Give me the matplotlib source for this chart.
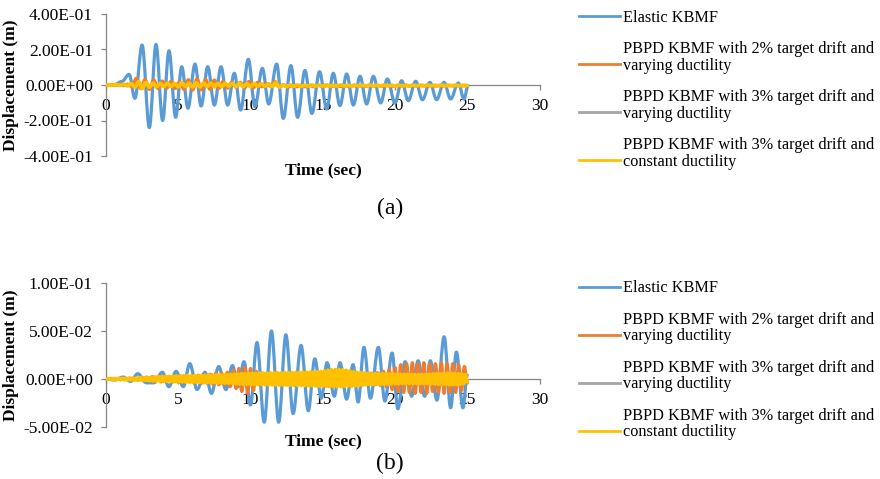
import matplotlib
matplotlib.use("Agg")
import matplotlib.pyplot as plt
import numpy as np
from matplotlib.path import Path
from matplotlib.patches import PathPatch
from matplotlib.lines import Line2D

plt.rcParams['font.family'] = ['Liberation Serif', 'DejaVu Serif']

# ---------------- data ----------------
# (a) elastic response: times and values of the peaks / troughs
t_el_a = [0, 0.6, 1.1, 1.6, 2.0, 2.5, 3.0, 3.46, 3.92, 4.36, 4.82, 5.24, 5.67, 6.16,
          6.58, 7.04, 7.5, 7.96, 8.42, 8.88, 9.32, 9.85, 10.31, 10.82, 11.26, 11.81,
          12.27, 12.8, 13.26, 13.77, 14.25, 14.78, 15.27, 15.73, 16.19, 16.66, 17.12,
          17.58, 18.04, 18.5, 19.01, 19.47, 20.0, 20.46, 20.92, 21.43, 21.9, 22.42,
          22.88, 23.39, 23.85, 24.38, 24.78, 25.05]
d_el_a = [0, 0.003, 0.02, 0.06, -0.075, 0.225, -0.24, 0.229, -0.2, 0.193, -0.182, 0.103,
          -0.131, 0.118, -0.118, 0.103, -0.113, 0.103, -0.113, 0.066, -0.141, 0.145,
          -0.122, 0.094, -0.107, 0.118, -0.188, 0.109, -0.182, 0.082, -0.16, 0.075,
          -0.135, 0.066, -0.116, 0.062, -0.113, 0.049, -0.107, 0.049, -0.101, 0.034,
          -0.101, 0.024, -0.088, 0.021, -0.083, 0.015, -0.083, 0.015, -0.079, 0.011,
          -0.079, -0.004]

# (a) PBPD 2% drift, varying ductility (one value every 0.3 s)
d_p2_a = [0, 0.002, -0.002, 0.003, -0.003, 0.005, -0.01, 0.038, -0.02, 0.03,
          -0.025, 0.028, -0.02, 0.022, -0.018, 0.02, -0.02, 0.018, -0.025, 0.03,
          -0.028, 0.035, -0.028, 0.03, -0.025, 0.028, -0.02, 0.02, -0.018, 0.015,
          -0.012, 0.015, -0.015, 0.02, -0.015, 0.015, -0.01, 0.008, -0.008, 0.02,
          -0.012, 0.0, -0.012, -0.002, -0.01, -0.002, -0.01, -0.003, -0.01, -0.002,
          -0.009, -0.003, -0.009, -0.002, -0.008, -0.003, -0.008, -0.002, -0.008, -0.003,
          -0.007, -0.002, -0.007, -0.003, -0.007, -0.002, -0.007, -0.003, -0.006, -0.002,
          -0.006, -0.003, -0.006, -0.002, -0.006, -0.003, -0.006, -0.002, -0.005, -0.003,
          -0.005, -0.002, -0.005, -0.004]
dt_p2_a = 0.3

# (a) PBPD 3% drift, varying ductility (every 0.25 s)
d_p3v_a = [0, 0.001, -0.001, 0.002, -0.002, 0.003, -0.004, 0.006,
           -0.01, 0.015, -0.016, 0.012, -0.01, 0.01, -0.008, 0.008,
           -0.008, 0.009, -0.007, 0.008, -0.009, 0.01, -0.008, 0.009,
           -0.009, 0.01, -0.009, 0.009, -0.007, 0.009, -0.009, 0.007,
           -0.007, 0.007, -0.006, 0.007, -0.007, 0.008, -0.007, 0.006,
           -0.007, 0.007, -0.005, 0.005, -0.005, 0.006, -0.007, 0.011,
           -0.01, 0.0, -0.007, -0.001, -0.006, -0.001, -0.006, -0.002,
           -0.006, -0.001, -0.006, -0.002, -0.005, -0.001, -0.005, -0.002,
           -0.005, -0.001, -0.005, -0.002, -0.005, -0.001, -0.005, -0.002,
           -0.005, -0.001, -0.005, -0.002, -0.004, -0.001, -0.004, -0.002,
           -0.004, -0.001, -0.004, -0.002, -0.004, -0.001, -0.004, -0.002,
           -0.004, -0.001, -0.004, -0.002, -0.004, -0.001, -0.004, -0.002,
           -0.004, -0.001, -0.004, -0.002, -0.003]
dt_p3v_a = 0.25

# (a) PBPD 3% drift, constant ductility (every 0.25 s)
d_p3c_a = [0, 0.001, -0.001, 0.002, -0.002, 0.004, -0.004, 0.008,
           -0.012, 0.018, -0.02, 0.014, -0.012, 0.01, -0.01, 0.008,
           -0.008, 0.01, -0.008, 0.008, -0.01, 0.012, -0.008, 0.01,
           -0.01, 0.012, -0.01, 0.01, -0.008, 0.01, -0.01, 0.008,
           -0.008, 0.008, -0.006, 0.008, -0.008, 0.01, -0.008, 0.006,
           -0.008, 0.008, -0.006, 0.006, -0.006, 0.006, -0.008, 0.014,
           -0.012, 0.0, -0.008, -0.001, -0.007, -0.001, -0.007, -0.002,
           -0.006, -0.001, -0.006, -0.002, -0.006, -0.001, -0.006, -0.002,
           -0.006, -0.001, -0.005, -0.002, -0.006, -0.001, -0.005, -0.002,
           -0.005, -0.001, -0.005, -0.002, -0.005, -0.001, -0.005, -0.002,
           -0.005, -0.001, -0.005, -0.002, -0.005, -0.001, -0.004, -0.002,
           -0.005, -0.001, -0.004, -0.002, -0.004, -0.001, -0.004, -0.002,
           -0.004, -0.001, -0.004, -0.002, -0.003]
dt_p3c_a = 0.25

# (b) elastic response: peaks / troughs
t_el_b = [0, 0.6, 1.2, 1.7, 2.2, 2.8, 3.3, 3.9, 4.35, 4.85, 5.35, 5.8, 6.3, 6.85, 7.3,
          7.8, 8.3, 8.75, 9.15, 9.55, 10.0, 10.45, 10.95, 11.45, 11.95, 12.45, 12.95,
          13.5, 14.0, 14.45, 14.9, 15.3, 15.8, 16.2, 16.65, 17.1, 17.45, 17.85, 18.3,
          18.85, 19.3, 19.8, 20.2, 20.7, 21.15, 21.6, 22.05, 22.45, 22.9, 23.4, 23.85,
          24.25, 24.7, 25.0]
d_el_b = [0, -0.001, 0.002, -0.0025, 0.0055, -0.004, -0.004, 0.007, -0.008, 0.008,
          -0.008, 0.016, -0.011, 0.007, -0.015, 0.013, -0.011, 0.014, -0.008, 0.018,
          -0.027, 0.038, -0.045, 0.05, -0.045, 0.046, -0.036, 0.035, -0.033, 0.021,
          -0.02, 0.017, -0.018, 0.017, -0.021, 0.015, -0.024, 0.033, -0.02, 0.033,
          -0.023, 0.027, -0.031, 0.018, -0.018, 0.019, -0.018, 0.019, -0.022, 0.044,
          -0.03, 0.028, -0.03, 0.004]

# (b) PBPD 2% drift, varying ductility (every 0.2 s)
d_p2_b = [0, -0.0004, 0.0005, -0.0005, 0.0006, -0.0006, 0.0005, -0.0007, 0.0008, -0.0008,
          0.001, -0.0012, 0.0015, -0.0018, 0.002, -0.002, 0.0025, -0.003, 0.0025, -0.003,
          0.003, -0.0028, 0.0025, -0.003, 0.0032, -0.0035, 0.003, -0.0033, 0.0035, -0.003,
          0.0035, -0.004, 0.004, -0.0045, 0.005, -0.0045, 0.005, -0.0055, 0.006, -0.006,
          0.006, -0.0065, 0.007, -0.008, 0.009, -0.01, 0.011, -0.013, 0.012, -0.015,
          0.011, -0.012, 0.008, -0.006, 0.005, -0.005, 0.004, -0.004, 0.004, -0.0045,
          0.004, -0.004, 0.0045, -0.005, 0.004, -0.0045, 0.005, -0.005, 0.0045, -0.005,
          0.005, -0.0055, 0.006, -0.006, 0.0055, -0.006, 0.007, -0.0075, 0.007, -0.007,
          0.0065, -0.006, 0.0055, -0.005, 0.005, -0.005, 0.0045, -0.005, 0.005, -0.0055,
          0.005, -0.0055, 0.006, -0.006, 0.0065, -0.007, 0.008, -0.008, 0.01, -0.011,
          0.012, -0.013, 0.015, -0.014, 0.016, -0.014, 0.017, -0.015, 0.016, -0.014,
          0.017, -0.015, 0.016, -0.013, 0.016, -0.014, 0.017, -0.015, 0.016, -0.014,
          0.016, -0.014, 0.015, -0.012, 0.013, -0.004]
dt_p2_b = 0.2

# (b) PBPD 3% drift, varying ductility (every 0.25 s)
d_p3v_b = [0, 0.0003, -0.0003, 0.0004, -0.0005, 0.0006, -0.0006, 0.0007,
           -0.0008, 0.001, -0.001, 0.0012, -0.0014, 0.0015, -0.0016, 0.0018,
           -0.0018, 0.002, -0.002, 0.0022, -0.0022, 0.0024, -0.0025, 0.0025,
           -0.0026, 0.0028, -0.0028, 0.003, -0.003, 0.003, -0.0032, 0.0032,
           -0.0034, 0.0035, -0.0036, 0.004, -0.0042, 0.0045, -0.0045, 0.0048,
           -0.0048, 0.005, -0.005, 0.0052, -0.005, 0.0052, -0.0052, 0.0054,
           -0.0054, 0.0055, -0.0055, 0.0056, -0.0056, 0.0058, -0.0058, 0.006,
           -0.006, 0.0065, -0.0065, 0.007, -0.007, 0.0072, -0.007, 0.0068,
           -0.0065, 0.006, -0.0058, 0.0056, -0.0055, 0.0055, -0.0054, 0.0055,
           -0.0056, 0.006, -0.006, 0.0065, -0.0065, 0.006, -0.0058, 0.0055,
           -0.005, 0.005, -0.0048, 0.0048, -0.0046, 0.0046, -0.0048, 0.005,
           -0.005, 0.0052, -0.0052, 0.0054, -0.0054, 0.0055, -0.0052, 0.005,
           -0.0048, 0.0045, -0.004, 0.0035, -0.002]
dt_p3v_b = 0.25

# (b) PBPD 3% drift, constant ductility (every 0.125 s)
d_p3c_b = [0, 0.0003, -0.0003, 0.0004, -0.0004, 0.0005, -0.0005, 0.0006,
           -0.0006, 0.0007, -0.0007, 0.0008, -0.0008, 0.0009, -0.0009, 0.001,
           -0.001, 0.0012, -0.0012, 0.0014, -0.0014, 0.0015, -0.0015, 0.0016,
           -0.0018, 0.002, -0.002, 0.0022, -0.002, 0.0024, -0.0022, 0.0025,
           -0.0025, 0.0026, -0.0025, 0.0028, -0.0026, 0.003, -0.0028, 0.003,
           -0.003, 0.0032, -0.003, 0.0034, -0.0032, 0.0035, -0.0033, 0.0035,
           -0.0035, 0.0036, -0.0034, 0.0036, -0.0035, 0.0038, -0.0036, 0.0038,
           -0.0038, 0.004, -0.0038, 0.004, -0.0039, 0.0042, -0.004, 0.0042,
           -0.0042, 0.0045, -0.0043, 0.0046, -0.0045, 0.0048, -0.0046, 0.005,
           -0.005, 0.0052, -0.0052, 0.0055, -0.0054, 0.0056, -0.0055, 0.0058,
           -0.0058, 0.006, -0.0058, 0.006, -0.0057, 0.006, -0.0058, 0.0062,
           -0.006, 0.0062, -0.006, 0.0064, -0.0062, 0.0064, -0.0062, 0.0065,
           -0.0064, 0.0065, -0.0063, 0.0066, -0.0064, 0.0066, -0.0065, 0.0068,
           -0.0066, 0.0068, -0.0066, 0.007, -0.0068, 0.007, -0.0068, 0.0072,
           -0.007, 0.0072, -0.007, 0.0074, -0.0072, 0.0075, -0.0074, 0.0078,
           -0.0072, 0.0085, -0.0075, 0.009, -0.0078, 0.0095, -0.008, 0.0098,
           -0.008, 0.0098, -0.0078, 0.0095, -0.0075, 0.009, -0.0072, 0.0085,
           -0.0075, 0.0075, -0.0072, 0.007, -0.0068, 0.0066, -0.0064, 0.0062,
           -0.006, 0.006, -0.0058, 0.0058, -0.0056, 0.0056, -0.0055, 0.0055,
           -0.0055, 0.0055, -0.0054, 0.0054, -0.0052, 0.0052, -0.0052, 0.0052,
           -0.005, 0.005, -0.005, 0.005, -0.0048, 0.0048, -0.0048, 0.0048,
           -0.0048, 0.0048, -0.0047, 0.0047, -0.0046, 0.0046, -0.0046, 0.0046,
           -0.0046, 0.0048, -0.0048, 0.005, -0.005, 0.0052, -0.0052, 0.0054,
           -0.0054, 0.0056, -0.0056, 0.0058, -0.0058, 0.006, -0.006, 0.006,
           -0.006, 0.0058, -0.0058, 0.0056, -0.0055, 0.0052, -0.005, 0.0045,
           -0.003]
dt_p3c_b = 0.125

x_ticks = [0, 5, 10, 15, 20, 25, 30]
y_ticks_a = [-0.4, -0.2, 0.0, 0.2, 0.4]
y_labels_a = ["-4.00E-01", "-2.00E-01", "0.00E+00", "2.00E-01", "4.00E-01"]
y_ticks_b = [-0.05, 0.0, 0.05, 0.1]
y_labels_b = ["-5.00E-02", "0.00E+00", "5.00E-02", "1.00E-01"]

series_names = ["Elastic KBMF",
                "PBPD KBMF with 2% target drift and\nvarying ductility",
                "PBPD KBMF with 3% target drift and\nvarying ductility",
                "PBPD KBMF with 3% target drift and\nconstant ductility"]
series_colors = ["#5B9BD5", "#ED7D31", "#A5A5A5", "#FFC000"]

# ---------------- helpers ----------------
W, H = 880, 479


def px(x, y):
    return x / W, 1 - y / H


def smooth(t, v):
    # curve through the extrema with flat tangents
    verts = [(t[0], v[0])]
    codes = [Path.MOVETO]
    for i in range(len(t) - 1):
        d = (t[i + 1] - t[i]) * 0.36
        verts += [(t[i] + d, v[i]), (t[i + 1] - d, v[i + 1]), (t[i + 1], v[i + 1])]
        codes += [Path.CURVE4] * 3
    return Path(verts, codes)


def draw(ax, t, v, color, lw, z):
    ax.add_patch(PathPatch(smooth(t, v), fill=False, edgecolor=color, lw=lw,
                           joinstyle='round', capstyle='round', zorder=z))


def style(ax, ylim, yticks, ylabels):
    ax.set_xlim(0, 30)
    ax.set_ylim(*ylim)
    for s in ['top', 'right']:
        ax.spines[s].set_visible(False)
    ax.spines['bottom'].set_position(('data', 0))
    for s in ['left', 'bottom']:
        ax.spines[s].set_color('#868686')
        ax.spines[s].set_linewidth(0.9)
    ax.set_xticks(x_ticks)
    ax.set_yticks(yticks)
    ax.set_yticklabels(ylabels)
    ax.tick_params(axis='both', direction='out', length=3.5, width=0.9,
                   color='#868686', labelsize=12.5)
    ax.tick_params(axis='y', pad=6)
    ax.tick_params(axis='x', pad=6)
    ax.set_ylabel("Displacement (m)", fontsize=12.5, fontweight='bold')
    ax.yaxis.set_label_coords(-0.2, 0.5)
    ax.patch.set_alpha(0)


def legend(y0):
    for k, (name, col) in enumerate(zip(series_names, series_colors)):
        yc = y0 + 48 * k
        x1, y1 = px(579, yc)
        x2, _ = px(620, yc)
        fig.add_artist(Line2D([x1, x2], [y1, y1], color=col, lw=2))
        tx, ty = px(623, yc + 5.5)
        fig.text(tx, ty, name, fontsize=11.7, va='baseline', ha='left',
                 linespacing=1.05)


fig = plt.figure(figsize=(8.8, 4.79), dpi=100)

# top panel: x 106..539.5 px, y 14..156 px
l, b = px(106, 156)
ax1 = fig.add_axes([l, b, 433.5 / W, 142 / H])
# bottom panel: y 283..427 px
l, b = px(106, 427)
ax2 = fig.add_axes([l, b, 433.5 / W, 144 / H])

style(ax1, (-0.4, 0.4), y_ticks_a, y_labels_a)
style(ax2, (-0.05, 0.1), y_ticks_b, y_labels_b)

lw = 2.3
draw(ax1, t_el_a, d_el_a, series_colors[0], lw, 2)
draw(ax1, np.arange(len(d_p2_a)) * dt_p2_a, d_p2_a, series_colors[1], lw, 3)
draw(ax1, np.arange(len(d_p3v_a)) * dt_p3v_a, d_p3v_a, series_colors[2], lw, 4)
draw(ax1, np.arange(len(d_p3c_a)) * dt_p3c_a, d_p3c_a, series_colors[3], lw + 0.4, 5)

draw(ax2, t_el_b, d_el_b, series_colors[0], lw, 2)
draw(ax2, np.arange(len(d_p2_b)) * dt_p2_b, d_p2_b, series_colors[1], lw, 3)
draw(ax2, np.arange(len(d_p3v_b)) * dt_p3v_b, d_p3v_b, series_colors[2], lw, 4)
draw(ax2, np.arange(len(d_p3c_b)) * dt_p3c_b, d_p3c_b, series_colors[3], lw + 0.4, 5)

x, y = px(323, 170)
fig.text(x, y, "Time (sec)", fontsize=12.5, fontweight='bold', ha='center', va='center')
x, y = px(323, 441)
fig.text(x, y, "Time (sec)", fontsize=12.5, fontweight='bold', ha='center', va='center')

x, y = px(390, 208)
fig.text(x, y, "(a)", fontsize=17, ha='center', va='center')
x, y = px(390, 463)
fig.text(x, y, "(b)", fontsize=17, ha='center', va='center')

legend(16)
legend(287)

fig.savefig("out.png", dpi=100)
